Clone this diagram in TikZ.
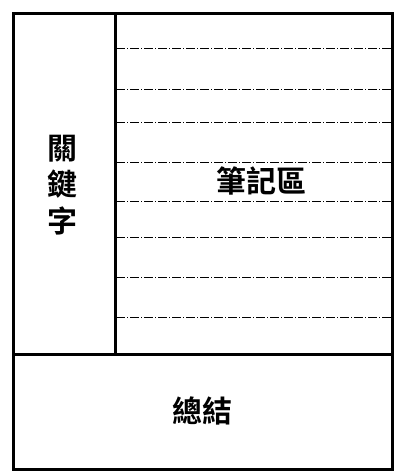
\documentclass[tikz,border=0pt]{standalone}
\usepackage{fontspec}
\newfontfamily\cjk{Noto Sans CJK TC}[BoldFont={Noto Sans CJK TC Bold}]

\begin{document}
\begin{tikzpicture}[x=1pt,y=-1pt]
\useasboundingbox (0,0) rectangle (400,472);
\tikzset{lbl/.style={font=\cjk\bfseries\fontsize{30}{36.5}\selectfont, inner sep=0pt, align=center}}
%\draw [gray!30] (0,0) grid (400,472);
\foreach \a in {48,89,122,162,201,237,277,317}
  \draw[line width=0.8pt, dash pattern=on 9pt off 2pt on 1pt off 2pt] (116,\a) -- (392,\a);
\draw[line width=3pt] (13,13) rectangle (392,469);
\draw[line width=3pt] (115,13) -- (115,354);
\draw[line width=3pt] (13,354) -- (392,354);
\node[lbl] (keyword) at (63,185) {關\\鍵\\字};
\node[lbl] (notes) at (261,181) {筆記區};
\node[lbl] (summary) at (202,411) {總結};
\end{tikzpicture}
\end{document}
